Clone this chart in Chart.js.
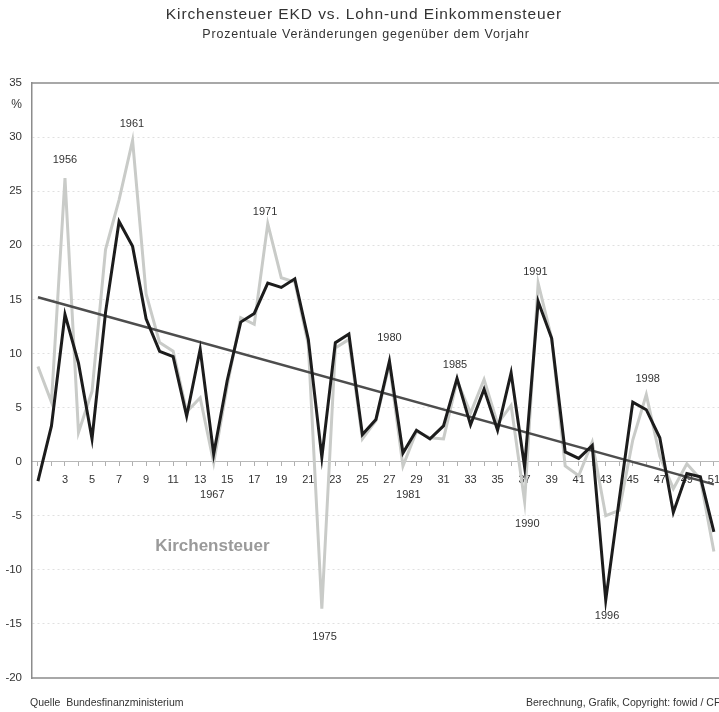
<!DOCTYPE html>
<html lang="de">
<head>
<meta charset="utf-8">
<title>Kirchensteuer EKD vs. Lohn- und Einkommensteuer</title>
<script src="https://cdn.jsdelivr.net/npm/chart.js@4.4.1/dist/chart.umd.min.js"></script>
<style>
    html, body { margin: 0; padding: 0; background: #fff; overflow: hidden; }
    #wrap { position: relative; width: 728px; height: 712px; }
</style>
</head>
<body>
<div id="wrap"><canvas id="steuerChart"></canvas></div>
<script>
// Laufende Nummer der Jahre (1 = 1954)
const periods = [1, 2, 3, 4, 5, 6, 7, 8, 9, 10, 11, 12, 13, 14, 15, 16, 17, 18, 19, 20,
    21, 22, 23, 24, 25, 26, 27, 28, 29, 30, 31, 32, 33, 34, 35, 36, 37, 38, 39, 40,
    41, 42, 43, 44, 45, 46, 47, 48, 49, 50, 51];

// Lohn- und Einkommensteuer (schwarz), Veränderung gegenüber Vorjahr in %
const lohnEinkommensteuer = [-1.8, 3.3, 13.6, 9.1, 2.1, 13.8, 22.2, 19.9, 13.2, 10.2,
    9.7, 4.2, 10.4, 0.7, 7.5, 12.9, 13.7, 16.5, 16.1, 16.9,
    11.3, 0.4, 11.0, 11.8, 2.5, 3.9, 9.3, 0.8, 2.9, 2.1,
    3.3, 7.7, 3.4, 6.7, 2.9, 8.2, -0.5, 14.8, 11.4, 0.9,
    0.3, 1.5, -12.8, -3.5, 5.5, 4.8, 2.2, -4.7, -1.1, -1.4, -6.5];

// Kirchensteuer EKD (grau)
const kirchensteuer = [8.8, 5.5, 26.2, 2.7, 6.5, 19.6, 24.2, 29.7, 15.5, 11.0,
    10.2, 4.6, 5.9, -0.1, 7.0, 13.3, 12.7, 22.0, 17.0, 16.6,
    10.8, -13.6, 10.5, 11.3, 2.1, 3.8, 9.0, -0.4, 2.8, 2.2,
    2.1, 7.5, 4.5, 7.6, 3.5, 5.2, -3.7, 16.5, 11.4, -0.4,
    -1.3, 1.8, -5.0, -4.5, 2.0, 6.2, 0.5, -2.5, -0.2, -1.6, -8.3];

// Trendlinie: Anfangs- und Endwert
const trendPeriods = [1, 51];
const trendValues = [15.2, -2.1];

// Jahresmarken: Jahr, Position (Periode) und Höhe (%)
const yearLabels = ['1956', '1961', '1967', '1971', '1975', '1980', '1981', '1985', '1990', '1991', '1996', '1998'];
const yearLabelPeriods = [3.0, 7.95, 13.9, 17.8, 22.2, 27.0, 28.4, 31.85, 37.2, 37.8, 43.1, 46.1];
const yearLabelValues = [27.9, 31.2, -3.1, 23.1, -16.2, 11.4, -3.1, 8.9, -5.8, 17.5, -14.3, 7.6];

const yTicks = [-20, -15, -10, -5, 0, 5, 10, 15, 20, 25, 30, 35];

const fontFamily = '"Liberation Sans", Arial, Helvetica, sans-serif';
const textColor = '#333';

const toPoints = (xs, ys) => xs.map((x, i) => ({ x: x, y: ys[i] }));

// Titel, Rahmen, Beschriftungen und Quellenangabe
const decorPlugin = {
    id: 'decor',
    afterDatasetsDraw(chart) {
        const { ctx, chartArea, scales } = chart;
        const x = scales.x, y = scales.y;
        ctx.save();

        // Titel und Untertitel (etwas gesperrt wie im Original)
        ctx.fillStyle = textColor;
        ctx.textAlign = 'center';
        ctx.textBaseline = 'middle';
        ctx.font = '15.5px ' + fontFamily;
        ctx.letterSpacing = '0.9px';
        ctx.fillText('Kirchensteuer EKD vs. Lohn-und Einkommensteuer', 364, 15);
        ctx.font = '12.5px ' + fontFamily;
        ctx.letterSpacing = '0.8px';
        ctx.fillText('Prozentuale Veränderungen gegenüber dem Vorjahr', 366, 35);
        ctx.letterSpacing = '0px';

        // Jahreszahlen
        ctx.font = '11px ' + fontFamily;
        yearLabels.forEach((label, i) => {
            ctx.fillText(label, x.getPixelForValue(yearLabelPeriods[i]), y.getPixelForValue(yearLabelValues[i]));
        });

        // Serienname
        ctx.font = 'bold 17px ' + fontFamily;
        ctx.fillStyle = '#9a9a9a';
        ctx.fillText('Kirchensteuer', x.getPixelForValue(13.9), y.getPixelForValue(-7.85));

        // Prozentzeichen an der y-Achse
        ctx.font = '12px ' + fontFamily;
        ctx.fillStyle = textColor;
        ctx.textAlign = 'right';
        ctx.fillText('%', y.right - 10, y.getPixelForValue(33));

        // Rahmen oben und unten
        ctx.strokeStyle = '#8c8c8c';
        ctx.lineWidth = 1.5;
        ctx.beginPath();
        ctx.moveTo(chartArea.left, chartArea.top);
        ctx.lineTo(chartArea.right, chartArea.top);
        ctx.moveTo(chartArea.left, chartArea.bottom);
        ctx.lineTo(chartArea.right, chartArea.bottom);
        ctx.stroke();

        // Quelle
        ctx.font = '10.5px ' + fontFamily;
        ctx.textAlign = 'left';
        ctx.fillStyle = textColor;
        ctx.fillText('Quelle  Bundesfinanzministerium', 30, chartArea.bottom + 25);
        ctx.fillText('Berechnung, Grafik, Copyright: fowid / CF', 526, chartArea.bottom + 25);
        ctx.restore();
    }
};

const ctx = document.getElementById('steuerChart').getContext('2d');
new Chart(ctx, {
    type: 'line',
    data: {
        datasets: [{
            label: 'Kirchensteuer',
            data: toPoints(periods, kirchensteuer),
            borderColor: '#c9cbc8',
            borderWidth: 3,
            pointRadius: 0,
            tension: 0,
            order: 3
        }, {
            label: 'Trend',
            data: toPoints(trendPeriods, trendValues),
            borderColor: '#4d4d4d',
            borderWidth: 2.5,
            pointRadius: 0,
            order: 2
        }, {
            label: 'Lohn- und Einkommensteuer',
            data: toPoints(periods, lohnEinkommensteuer),
            borderColor: '#1c1c1c',
            borderWidth: 3,
            pointRadius: 0,
            tension: 0,
            order: 1
        }]
    },
    options: {
        responsive: true,
        maintainAspectRatio: false,
        animation: false,
        layout: { padding: { left: 0, right: 0, top: 83, bottom: 34 } },
        plugins: {
            legend: { display: false },
            tooltip: { enabled: false },
            title: { display: false },
            subtitle: { display: false }
        },
        scales: {
            x: {
                type: 'linear',
                position: { y: 0 },
                min: 0.56,
                max: 52,
                afterBuildTicks: scale => { scale.ticks = periods.map(v => ({ value: v })); },
                ticks: {
                    autoSkip: false,
                    maxRotation: 0,
                    color: textColor,
                    font: { family: fontFamily, size: 11 },
                    padding: 8,
                    callback: v => (v >= 3 && v % 2 === 1) ? String(v) : ''
                },
                grid: { drawOnChartArea: false, tickLength: 4, color: '#b0b0b0' },
                border: { display: true, color: '#b8b8b8', width: 1 }
            },
            y: {
                min: -20,
                max: 35,
                afterBuildTicks: scale => { scale.ticks = yTicks.map(v => ({ value: v })); },
                afterFit: scale => { scale.width = 32; },
                ticks: {
                    color: textColor,
                    font: { family: fontFamily, size: 11.5 },
                    padding: 10
                },
                grid: {
                    drawTicks: false,
                    color: ctx => (ctx.tick && (ctx.tick.value === 35 || ctx.tick.value === -20)) ? 'rgba(0,0,0,0)' : 'rgba(0,0,0,0.12)'
                },
                border: { display: true, color: '#8c8c8c', width: 1.5, dash: [2, 3] }
            }
        }
    },
    plugins: [decorPlugin]
});
</script>
</body>
</html>
